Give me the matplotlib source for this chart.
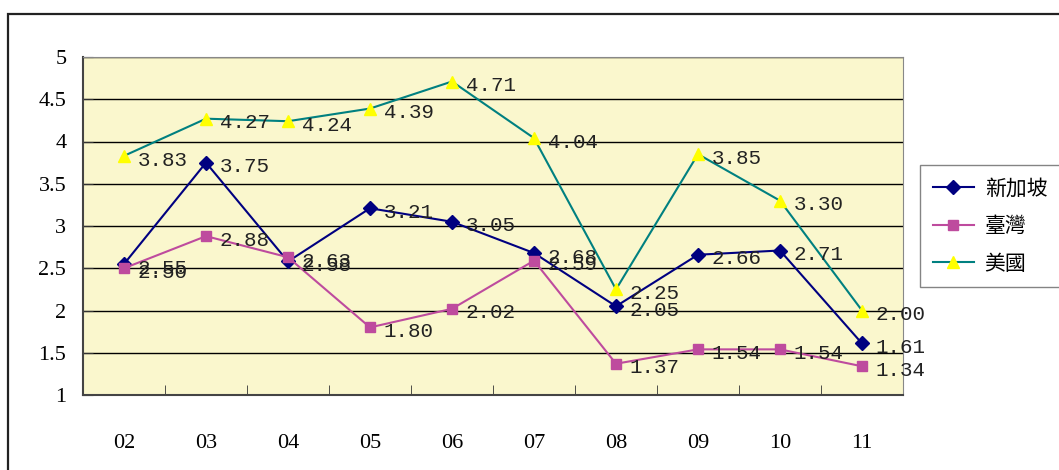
import matplotlib.pyplot as plt
from matplotlib.patches import Rectangle
import numpy as np

plt.rcParams['font.family'] = ['Liberation Serif', 'Noto Sans CJK TC', 'DejaVu Sans']

years = ['02', '03', '04', '05', '06', '07', '08', '09', '10', '11']
singapore = [2.55, 3.75, 2.58, 3.21, 3.05, 2.68, 2.05, 2.66, 2.71, 1.61]
taiwan = [2.50, 2.88, 2.63, 1.80, 2.02, 2.59, 1.37, 1.54, 1.54, 1.34]
usa = [3.83, 4.27, 4.24, 4.39, 4.71, 4.04, 2.25, 3.85, 3.30, 2.00]

series = [
    ('新加坡', singapore, '#000080', 'D', '#000080', 7),
    ('臺灣', taiwan, '#BE4B9E', 's', '#BE4B9E', 7),
    ('美國', usa, '#008080', '^', '#FFFF00', 9),
]

fig = plt.figure(figsize=(10.59, 4.70), dpi=100)

# outer chart frame
fig.patches.append(Rectangle((8 / 1059, -0.02), 1.1, 1 - 14 / 470 + 0.02,
                             transform=fig.transFigure, fill=False,
                             edgecolor='#222222', linewidth=1.6))

ax = fig.add_axes([83 / 1059, 1 - 395 / 470, 820 / 1059, 338 / 470])
ax.set_facecolor('#FAF7CD')

x = np.arange(len(years))
for name, vals, col, mk, mfc, ms in series:
    ax.plot(x, vals, color=col, marker=mk, markersize=ms, markerfacecolor=mfc,
            markeredgecolor=mfc, linewidth=1.5, label=name, zorder=3)
    for xi, v in zip(x, vals):
        ax.annotate(f'{v:.2f}', (xi, v), xytext=(10, -3), textcoords='offset points',
                    ha='left', va='center', fontsize=15, family='Liberation Mono',
                    color='#222222', zorder=4)

ax.set_xlim(-0.5, len(years) - 0.5)
ax.set_ylim(1, 5)
ax.set_yticks(np.arange(1, 5.01, 0.5))
ax.set_yticklabels(['1', '1.5', '2', '2.5', '3', '3.5', '4', '4.5', '5'])
ax.yaxis.grid(True, color='black', linewidth=1)
ax.set_axisbelow(True)

ax.set_xticks(x)
ax.set_xticklabels(years)
ax.set_xticks(np.arange(0.5, len(years) - 0.5, 1), minor=True)
ax.tick_params(axis='x', which='major', length=0, pad=28, labelsize=16)
ax.tick_params(axis='x', which='minor', direction='in', length=7, color='#333333')
ax.tick_params(axis='y', direction='in', length=7, pad=12, labelsize=16, color='#333333')

for side in ['top', 'right']:
    ax.spines[side].set_color('#888888')
for side in ['left', 'bottom']:
    ax.spines[side].set_color('#444444')
    ax.spines[side].set_linewidth(1.5)

leg = fig.legend(loc='upper left', bbox_to_anchor=(920 / 1059, 1 - 165 / 470),
                 borderaxespad=0, frameon=True, fancybox=False, edgecolor='#666666',
                 prop={'family': ['Noto Sans CJK TC'], 'size': 15},
                 handlelength=2.0, handletextpad=0.5, borderpad=0.6,
                 labelspacing=0.75)
leg.get_frame().set_linewidth(1)

fig.savefig('out.png', dpi=100)
